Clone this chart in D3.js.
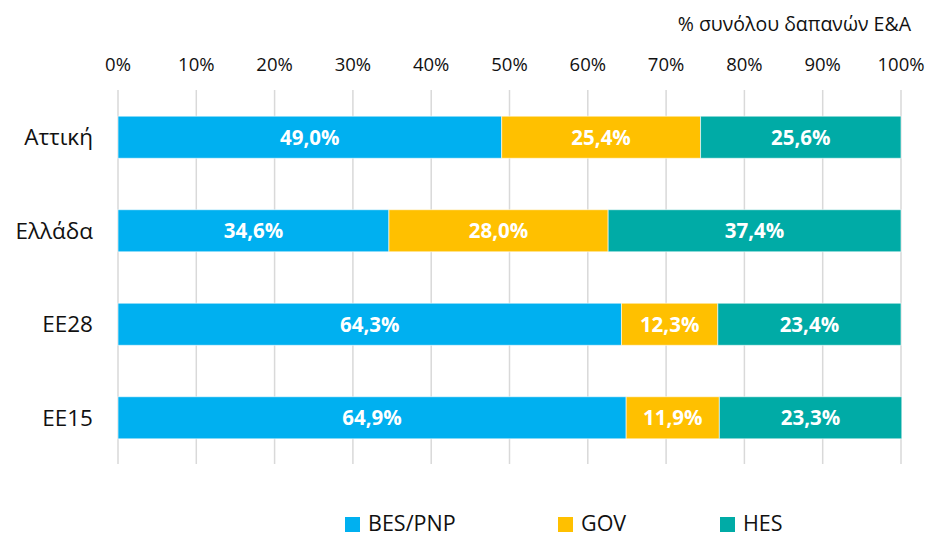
<!DOCTYPE html>
<html>
<head>
<meta charset="utf-8">
<script src="https://cdn.jsdelivr.net/npm/d3@7"></script>
<style>
  body { margin: 0; background: #fff; }
  svg { font-family: "Open Sans", "Noto Sans", sans-serif; }
</style>
</head>
<body>
<div id="chart"></div>
<script>
const regions = ["Αττική", "Ελλάδα", "ΕΕ28", "ΕΕ15"];
const seriesNames = ["BES/PNP", "GOV", "HES"];
const bes = [49.0, 34.6, 64.3, 64.9];
const gov = [25.4, 28.0, 12.3, 11.9];
const hes = [25.6, 37.4, 23.4, 23.3];
const tickValues = [0, 10, 20, 30, 40, 50, 60, 70, 80, 90, 100];
const colors = ["#00B0F0", "#FFC000", "#00ABA6"];

const W = 926, H = 537;
const svg = d3.select('#chart').append('svg').attr('width', W).attr('height', H);

const x = d3.scaleLinear().domain([0, 100]).range([118, 901]);
const y = d3.scaleBand().domain(regions).range([90, 465]).paddingInner(0.55).paddingOuter(0.28);

// gridlines
svg.append('g').selectAll('line').data(tickValues)
  .join('line')
  .attr('x1', d => x(d)).attr('x2', d => x(d))
  .attr('y1', 90).attr('y2', 464)
  .attr('stroke', '#d9d9d9').attr('stroke-width', 1.5);

// top tick labels
svg.append('g').selectAll('text').data(tickValues)
  .join('text')
  .attr('x', d => x(d)).attr('y', 71)
  .attr('text-anchor', 'middle')
  .attr('font-size', 18.5).attr('fill', '#111')
  .text(d => d + '%');

svg.append('text')
  .attr('x', 911).attr('y', 31)
  .attr('text-anchor', 'end')
  .attr('font-size', 19.5).attr('fill', '#111')
  .text('% συνόλου δαπανών Ε&Α');

// stack
const rows = regions.map((r, i) => ({ region: r, "BES/PNP": bes[i], GOV: gov[i], HES: hes[i] }));
const stacked = d3.stack().keys(seriesNames)(rows);

const layer = svg.append('g').selectAll('g').data(stacked)
  .join('g').attr('fill', (d, i) => colors[i]);

layer.selectAll('rect').data(d => d)
  .join('rect')
  .attr('x', d => x(d[0]))
  .attr('width', d => x(d[1]) - x(d[0]))
  .attr('y', d => y(d.data.region))
  .attr('height', y.bandwidth())
  .attr('stroke', 'rgba(255,255,255,0.6)').attr('stroke-width', 1);

const fmt = v => v.toFixed(1).replace('.', ',') + '%';
layer.selectAll('text').data(d => d.map(s => ({ s, key: d.key })))
  .join('text')
  .attr('x', d => (x(d.s[0]) + x(d.s[1])) / 2)
  .attr('y', d => y(d.s.data.region) + y.bandwidth() / 2)
  .attr('dy', '0.36em')
  .attr('text-anchor', 'middle')
  .attr('font-size', 20.5).attr('font-weight', 'bold')
  .attr('fill', '#fff')
  .text(d => fmt(d.s.data[d.key]));

// category labels
svg.append('g').selectAll('text').data(regions)
  .join('text')
  .attr('x', 93).attr('y', d => y(d) + y.bandwidth() / 2)
  .attr('dy', '0.36em')
  .attr('text-anchor', 'end')
  .attr('font-size', 22.5).attr('fill', '#111')
  .text(d => d);

// legend (kept just inside the bottom edge)
const legendX = [345, 558, 720];
const legend = svg.append('g').selectAll('g').data(seriesNames)
  .join('g').attr('transform', (d, i) => `translate(${legendX[i]},516)`);
legend.append('rect').attr('y', 1).attr('width', 15).attr('height', 15).attr('fill', (d, i) => colors[i]);
legend.append('text').attr('x', 23).attr('y', 15)
  .attr('font-size', 21.5).attr('fill', '#111').text(d => d);
</script>
</body>
</html>
